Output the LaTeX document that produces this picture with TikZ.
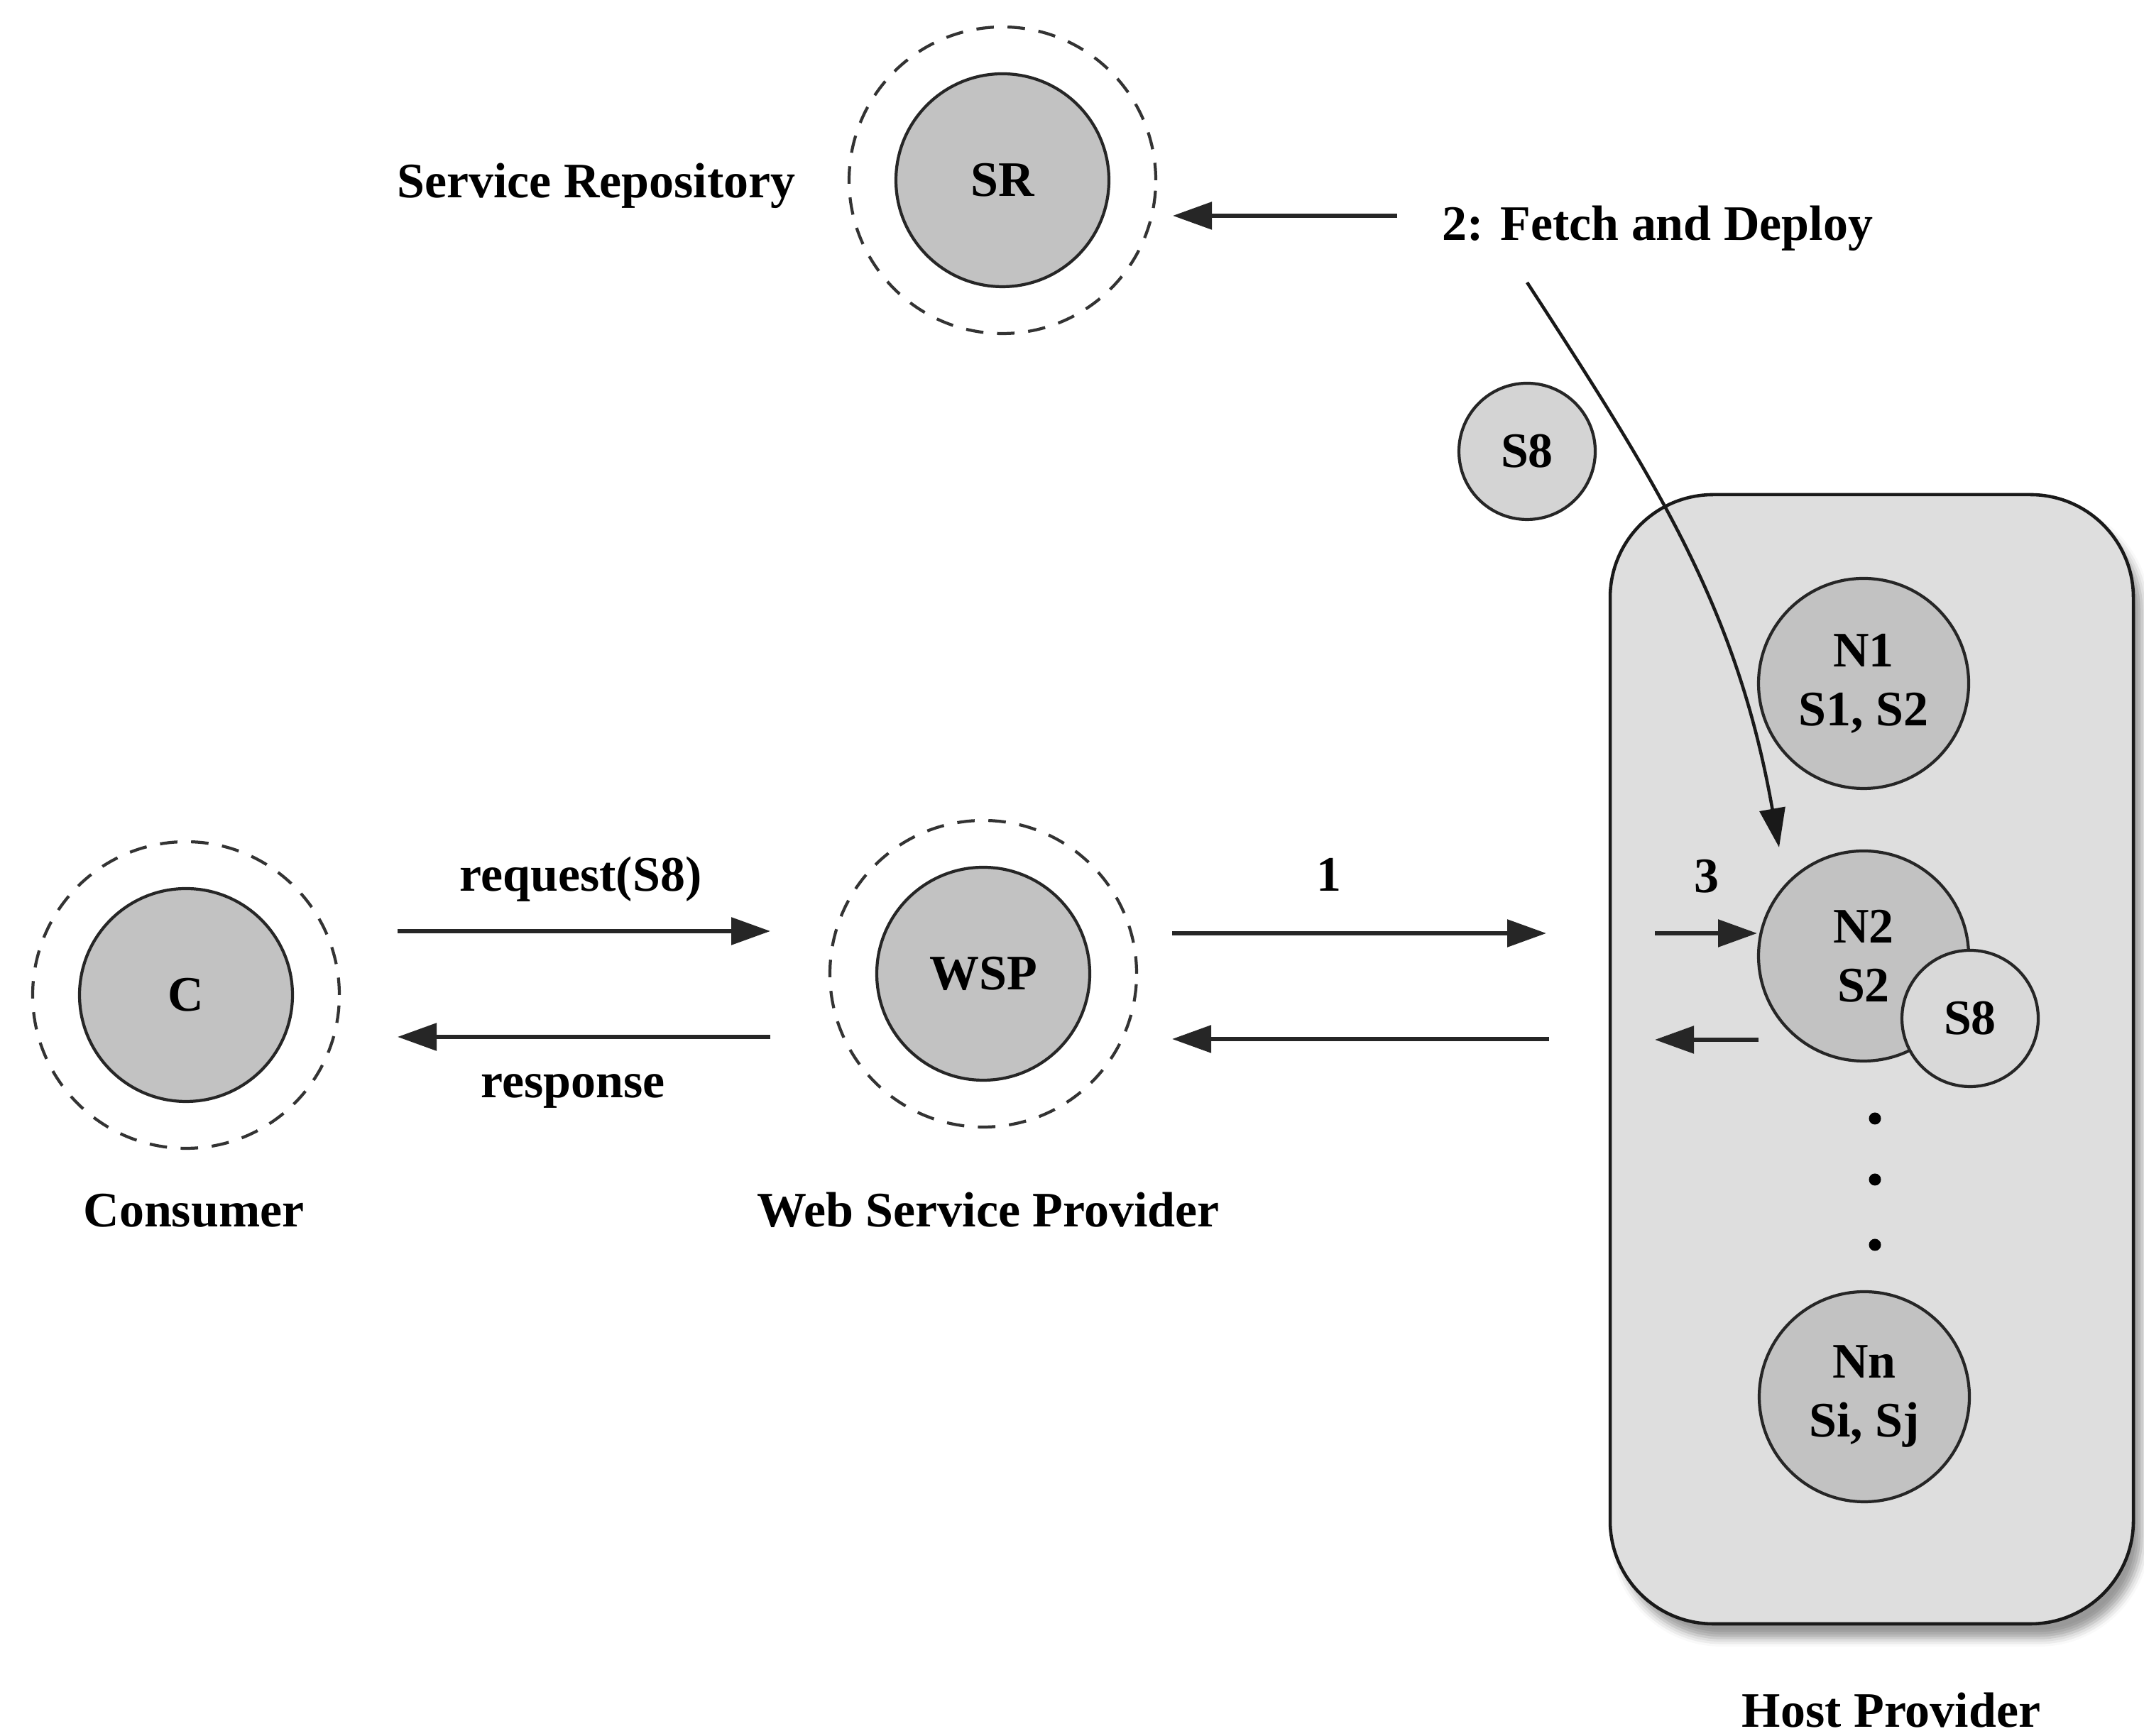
\documentclass[tikz,border=0pt]{standalone}
\usepackage{fontspec}
\setmainfont{Liberation Serif}
\usetikzlibrary{arrows.meta,shadows.blur}

\definecolor{nodefill}{gray}{0.76}
\definecolor{svcfill}{gray}{0.83}
\definecolor{hostfill}{gray}{0.87}

\tikzset{
  base/.style={font=\fontsize{19.9}{23.6}\selectfont\bfseries},
  party/.style={base, circle, draw=black!85, line width=1.2pt, fill=nodefill, minimum size=3.0cm, inner sep=0pt},
  ring/.style={circle, draw=black!80, line width=1.2pt, dash pattern=on 7pt off 5.5pt, minimum size=4.32cm, inner sep=0pt},
  hostnode/.style={base, circle, draw=black!85, line width=1.2pt, fill=nodefill, minimum size=2.96cm, inner sep=0pt, align=center},
  svc/.style={base, circle, draw=black!85, line width=1.2pt, fill=svcfill, minimum size=1.92cm, inner sep=0pt},
  lbl/.style={base, anchor=base, inner sep=0pt},
  msg/.style={line width=1.6pt, draw=black!85, -{Triangle[length=0.55cm, width=0.38cm]}},
  fetch/.style={line width=1.3pt, draw=black!90, -{Triangle[length=0.55cm, width=0.36cm]}},
  dot/.style={circle, fill=black, minimum size=0.17cm, inner sep=0pt}
}

\begin{document}
\begin{tikzpicture}
\useasboundingbox (0,0) rectangle (30.20,24.46);

% host provider container
\node[draw=black!90, line width=1.3pt, fill=hostfill, rounded corners=1.45cm,
      minimum width=7.37cm, minimum height=15.91cm, inner sep=0pt,
      blur shadow={shadow xshift=0.12cm, shadow yshift=-0.2cm, shadow blur radius=0.12cm, shadow opacity=40}]
      (host) at (26.365,9.535) {};

% consumer
\node[ring] (Cring) at (2.62,10.44) {};
\node[party] (C) at (2.62,10.44) {C};
\node[lbl] (Clbl) at (2.73,7.17) {Consumer};

% web service provider
\node[ring] (Wring) at (13.85,10.74) {};
\node[party] (WSP) at (13.85,10.74) {WSP};
\node[lbl] (Wlbl) at (13.92,7.17) {Web Service Provider};

% service repository
\node[ring] (SRring) at (14.12,21.92) {};
\node[party] (SR) at (14.12,21.92) {SR};
\node[lbl] (SRlbl) at (8.40,21.67) {Service Repository};

% service being fetched
\node[svc] (S8free) at (21.51,18.10) {S8};

% nodes of the host provider
\node[hostnode] (N1) at (26.25,14.83) {N1\\S1, S2};
\node[hostnode] (N2) at (26.25,10.99) {N2\\S2};
\node[svc, fill=gray!30] (S8dep) at (27.75,10.11) {S8};
\node[hostnode] (Nn) at (26.26,4.78) {Nn\\Si, Sj};
\node[dot] (d1) at (26.41,8.70) {};
\node[dot] (d2) at (26.41,7.84) {};
\node[dot] (d3) at (26.41,6.92) {};
\node[lbl] (Hlbl) at (26.64,0.12) {Host Provider};

% message labels
\node[lbl] (reqlbl) at (8.18,11.90) {request(S8)};
\node[lbl] (resplbl) at (8.07,8.99) {response};
\node[lbl] (onelbl) at (18.72,11.90) {1};
\node[lbl] (threelbl) at (24.04,11.88) {3};
\node[lbl] (fetchlbl) at (23.35,21.07) {2: Fetch and Deploy};

% connector end points
\coordinate (reqA) at (5.60,11.34);
\coordinate (reqB) at (10.85,11.34);
\coordinate (respA) at (10.85,9.85);
\coordinate (respB) at (5.60,9.85);
\coordinate (fwdA) at (16.51,11.31);
\coordinate (fwdB) at (21.78,11.31);
\coordinate (backA) at (21.82,9.82);
\coordinate (backB) at (16.51,9.82);
\coordinate (inA) at (23.31,11.31);
\coordinate (inB) at (24.75,11.31);
\coordinate (outA) at (24.77,9.81);
\coordinate (outB) at (23.31,9.81);
\coordinate (fetchA) at (19.68,21.42);
\coordinate (fetchB) at (16.52,21.42);
\coordinate (depA) at (21.51,20.48);
\coordinate (depB) at (25.06,12.52);

% messages
\draw[msg] (reqA) -- (reqB);
\draw[msg] (respA) -- (respB);
\draw[msg] (fwdA) -- (fwdB);
\draw[msg] (backA) -- (backB);
\draw[msg] (inA) -- (inB);
\draw[msg] (outA) -- (outB);
\draw[msg] (fetchA) -- (fetchB);
\draw[fetch] (depA) to[out=-57, in=100] (depB);
\end{tikzpicture}
\end{document}
